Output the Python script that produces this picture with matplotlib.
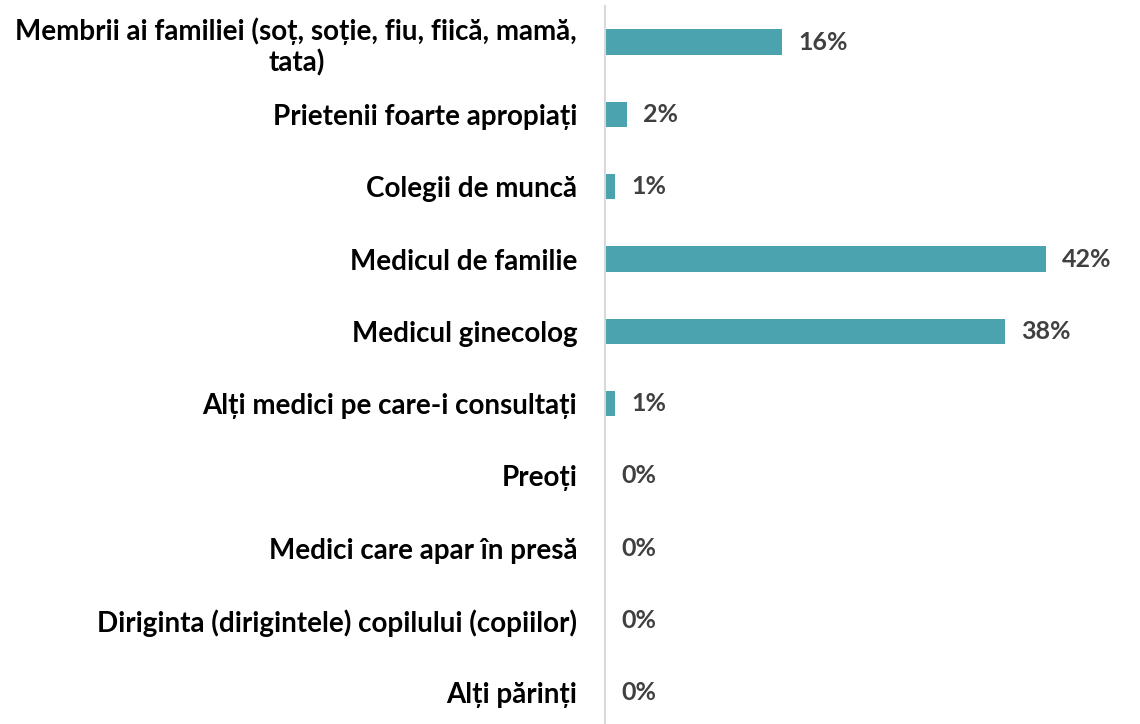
import matplotlib.pyplot as plt

categories = [
    "Membrii ai familiei (soț, soție, fiu, fiică, mamă,\ntata)",
    "Prietenii foarte apropiați",
    "Colegii de muncă",
    "Medicul de familie",
    "Medicul ginecolog",
    "Alți medici pe care-i consultați",
    "Preoți",
    "Medici care apar în presă",
    "Diriginta (dirigintele) copilului (copiilor)",
    "Alți părinți",
]
values = [16.9, 2.1, 1.0, 42.0, 38.1, 1.0, 0.0, 0.0, 0.0, 0.0]
value_labels = ["16%", "2%", "1%", "42%", "38%", "1%", "0%", "0%", "0%", "0%"]

plt.rcParams["font.family"] = ["Lato", "DejaVu Sans"]

fig = plt.figure(figsize=(11.4, 7.24), dpi=100)
ax = fig.add_axes([605 / 1140, -5 / 724, 535 / 1140, 723 / 724])

y = list(range(len(categories)))
ax.barh(y, values, height=0.35, color="#4BA3B0")

for yi, v, lab in zip(y, values, value_labels):
    ax.annotate(lab, xy=(v, yi), xytext=(16, 0), textcoords="offset pixels",
                ha="left", va="center", fontsize=18, fontweight="bold", color="#404040")

ax.set_xlim(0, 51.0)
ax.set_ylim(len(categories) - 0.5, -0.5)
ax.set_yticks(y)
ax.set_yticklabels(categories, fontsize=20, fontweight="bold", color="black")
for t in ax.get_yticklabels():
    t.set_multialignment("center")
ax.tick_params(axis="y", length=0, pad=20)
ax.set_xticks([])

for s in ["top", "right", "bottom"]:
    ax.spines[s].set_visible(False)
ax.spines["left"].set_color("#d9d9d9")
ax.spines["left"].set_linewidth(1.5)

fig.savefig("out.png", dpi=100)
